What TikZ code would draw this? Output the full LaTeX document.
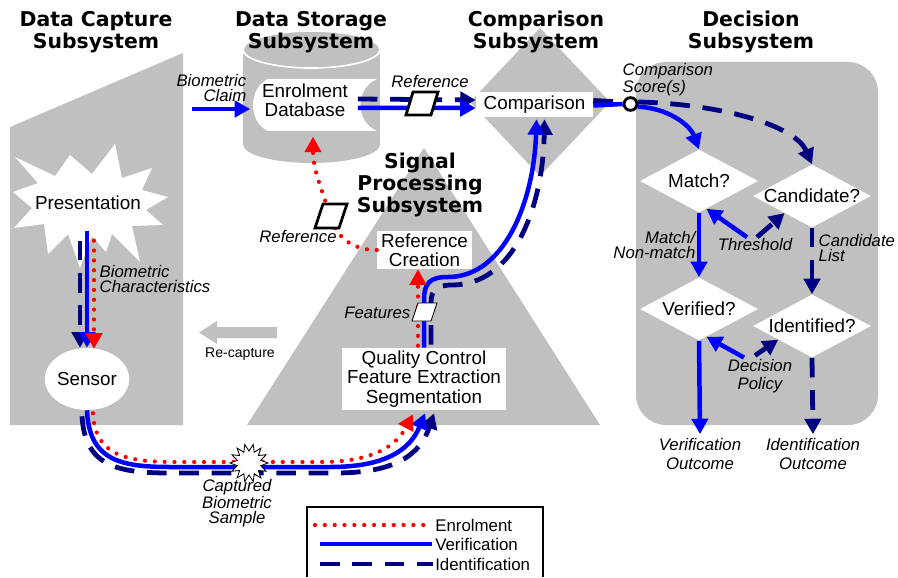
\documentclass[tikz,border=0pt]{standalone}
\usepackage{fontspec}
\setmainfont{Liberation Sans}
\newfontfamily\titlefont{DejaVu Sans}
\usetikzlibrary{positioning,calc,arrows.meta,shapes.geometric}
\definecolor{bggray}{RGB}{192,192,192}
\definecolor{navy}{RGB}{0,0,128}
\tikzstyle{box} = [fill=white, inner sep=0pt, align=center, font=\fontsize{13.4}{13.6}\selectfont]
\tikzstyle{ask} = [diamond, fill=white, inner sep=0pt, minimum width=2.95cm, minimum height=1.575cm, font=\fontsize{13.4}{13.6}\selectfont]
\tikzstyle{subsys} = [align=center, inner sep=0pt, font=\titlefont\bfseries\fontsize{14.5}{15.6}\selectfont]
\tikzstyle{lbl} = [inner sep=1pt, font=\itshape\fontsize{11.9}{11}\selectfont]
\tikzstyle{enrol} = [red, line width=3pt, line cap=round, dash pattern=on 0pt off 7pt]
\tikzstyle{verif} = [blue, line width=3.2pt]
\tikzstyle{ident} = [navy, line width=3.4pt, dash pattern=on 14pt off 9pt]
\tikzstyle{flow} = [-{Triangle[length=11pt,width=11.5pt]}]
\tikzstyle{refdoc} = [draw=black, fill=white, line width=2pt]

\begin{document}
\begin{tikzpicture}[x=0.025cm, y=-0.025cm]
	\useasboundingbox (0,0) rectangle (898,577);

	\fill[bggray] (10,127) -- (183,53) -- (183,425) -- (10,425) -- cycle;
	\fill[bggray] (311.5,144.5) ellipse [x radius=68.5, y radius=18.5];
	\fill[bggray] (243,49.5) rectangle (380,144.5);
	\fill[bggray] (311.5,49.5) ellipse [x radius=68.5, y radius=18.5];
	\draw[white, line width=1.2pt] (311.5,49.5) ellipse [x radius=68.5, y radius=18.5];
	\fill[white] (268,79) -- (377,79) .. controls (355,88) and (355,122) .. (377,131) -- (268,131) .. controls (248,122) and (248,88) .. (268,79) -- cycle;
	\fill[bggray] (540,28) -- (610,102) -- (540,176) -- (470,102) -- cycle;
	\fill[bggray] (424,148) -- (600,425) -- (247,425) -- cycle;
	\fill[bggray, rounded corners=0.75cm] (636,62) rectangle (878,425);
	\fill[bggray] (277,327) -- (217,327) -- (217,321) -- (199,332.5) -- (217,344) -- (217,338) -- (277,338) -- cycle;
	\fill[white] (13,192) -- (38,183) -- (15,157) -- (55,176) -- (70,155) -- (92,174) -- (115,144) -- (122,178) -- (152,168) -- (142,190) -- (168,197) -- (146,210) -- (163,225) -- (132,226) -- (140,262) -- (112,234) -- (106,252) -- (92,236) -- (80,268) -- (68,234) -- (48,254) -- (44,224) -- (14,228) -- (32,208) -- cycle;

	\node[subsys] (capt) at (96,32) {Data Capture\\Subsystem};
	\node[subsys] (stor) at (311,32) {Data Storage\\Subsystem};
	\node[subsys] (cmpt) at (536,32) {Comparison\\Subsystem};
	\node[subsys] (dect) at (751,32) {Decision\\Subsystem};
	\node[subsys] (sigt) at (420,185) {Signal\\Processing\\Subsystem};

	\node[box] (pres) at (88,203) {Presentation};
	\node[box, ellipse, minimum width=1.675cm, minimum height=1.55cm] (sensor) at (87,379) {Sensor};
	\node[box, fill=none, minimum width=2.625cm] (db) at (305,100) {Enrolment\\Database};
	\node[box, minimum width=2.925cm, minimum height=0.625cm] (cmp) at (534.5,104.5) {Comparison};
	\node[box, minimum width=2.375cm, minimum height=0.95cm] (refc) at (424.5,250) {Reference\\Creation};
	\node[box, minimum width=4.1cm, minimum height=1.55cm] (qc) at (424,379) {Quality Control\\Feature Extraction\\Segmentation};
	\node[ask] (match) at (699,181) {\makebox[0pt]{Match?}};
	\node[ask] (cand) at (812,196) {\makebox[0pt]{Candidate?}};
	\node[ask] (ver) at (699,309) {\makebox[0pt]{Verified?}};
	\node[ask] (iden) at (812,326) {\makebox[0pt]{Identified?}};
	\node[circle, draw, fill=white, line width=2pt, minimum size=0.32cm, inner sep=0pt] (score) at (630.5,104) {};

	\node[lbl, align=right, anchor=east] (claim) at (248,88) {Biometric\\Claim};
	\coordinate (claimin) at (192,109);
	\node[lbl] (ref1) at (430,82) {Reference};
	\node[lbl] (ref2) at (298,237) {Reference};
	\node[lbl, align=left, anchor=west] (chars) at (98,279) {Biometric\\Characteristics};
	\node[lbl, anchor=east] (feattxt) at (412,313) {Features};
	\node[lbl, align=center] (captxt) at (237,503) {Captured\\Biometric\\Sample};
	\node[font=\fontsize{10}{10}\selectfont, inner sep=0pt] (recap) at (240,354) {Re-capture};
	\node[lbl, align=left, anchor=west] (scoretxt) at (621,80) {Comparison\\Score(s)};
	\node[lbl, align=right, anchor=east] (mnm) at (697,245) {Match/\\Non-match};
	\node[lbl] (thr) at (755,245) {Threshold};
	\node[lbl, align=left, anchor=west] (clist) at (817,248) {Candidate\\List};
	\node[lbl, align=center, font=\itshape\fontsize{11.9}{12.8}\selectfont] (pol) at (760,376) {Decision\\Policy};
	\node[lbl, align=center, font=\itshape\fontsize{11.9}{14.2}\selectfont] (vout) at (700,454) {Verification\\Outcome};
	\node[lbl, align=center, font=\itshape\fontsize{11.9}{14.2}\selectfont] (iout) at (813,454) {Identification\\Outcome};

	\draw[verif, flow] (claimin) -- ($(db.west)+(-2,9)$);
	\draw[ident, flow] ($(db.east)+(0,-1)$) -- ($(cmp.west)+(0,-4.5)$);
	\draw[verif, flow] ($(db.east)+(0,8)$) -- ($(cmp.west)+(0,3.5)$);
	\draw[ident] ($(cmp.east)+(0,-4)$) -- (score.165);
	\draw[verif] ($(cmp.east)+(0,1)$) -- (score.west);
	\draw[ident, flow] (score.15) .. controls (720,104) and (795,125) .. (cand.north);
	\draw[verif, flow] (score.-20) .. controls (668,108) and (690,125) .. (match.north);
	\draw[verif, flow] (match.south) -- (ver.north);
	\draw[ident, flow] (cand.south) -- (iden.north);
	\draw[verif, flow] ($(thr.north)+(-8,0)$) -- (match.-75);
	\draw[ident, flow] ($(thr.north)+(2,0)$) -- (cand.-148);
	\draw[verif, flow] ($(pol.north)+(-16,0)$) -- (ver.-75);
	\draw[ident, flow] ($(pol.north)+(-5,-2)$) -- (iden.-158);
	\draw[verif, flow] (ver.south) -- ($(vout.north)+(0,-2)$);
	\draw[ident, flow] (iden.south) -- ($(iout.north)+(0,-2)$);

	\draw[ident, flow] ($(sensor.north)+(-7,-107)$) -- ($(sensor.north)+(-7,0)$);
	\draw[verif, flow] ($(sensor.north)+(0,-117)$) -- (sensor.north);
	\draw[enrol, flow] ($(sensor.north)+(7,-107)$) -- ($(sensor.north)+(7,1)$);

	\draw[ident, flow] ($(sensor.south)+(-5,6)$) .. controls (85,465) and (115,473) .. (170,473) -- (335,473) .. controls (395,473) and (420,455) .. ($(qc.south)+(10,3)$);
	\draw[verif, flow] (sensor.south) .. controls (89,460) and (120,467) .. (170,467) -- (330,467) .. controls (385,467) and (410,450) .. ($(qc.south)+(1,3)$);
	\draw[enrol, flow] ($(sensor.south)+(6,3)$) .. controls (95,455) and (125,462) .. (175,462) -- (320,462) .. controls (370,462) and (395,448) .. ($(qc.south)+(-11,4)$);

	\draw[ident, flow] ($(qc.north)+(7,-3)$) -- (431,303) .. controls (431,290) and (437,285) .. (452,285) .. controls (515,285) and (543,205) .. ($(cmp.south)+(10,2)$);
	\draw[verif, flow] (qc.north) -- (424,300) .. controls (424,283) and (430,277) .. (448,277) .. controls (505,277) and (534,200) .. ($(cmp.south)+(2,2)$);
	\draw[enrol, flow] ($(qc.north)+(-6,-2)$) -- ($(refc.south)+(-6.5,0)$);
	\draw[enrol, flow] (refc.west) .. controls (350,250) and (335,235) .. (330,215) .. controls (322,190) and (313,170) .. ($(db.south)+(8,20)$);

	\draw[refdoc] (406,115) -- (413,92) -- (438,92) -- (431,115) -- cycle;
	\draw[refdoc] (315,228) -- (323,204) -- (347,204) -- (339,228) -- cycle;
	\draw[black, fill=white, line width=0.6pt] (412,321) -- (418,303) -- (437,303) -- (431,321) -- cycle;
	\begin{scope}[shift={(249,463)}]
		\filldraw[fill=white, draw=black, line width=0.6pt] (0:19) \foreach \i in {1,...,27} { -- ({\i*360/28}:{ifthenelse(isodd(\i),12,19)}) } -- cycle;
	\end{scope}

	\draw[line width=0.8pt] (307,577) -- (307,507) -- (543,507) -- (543,577);
	\node[anchor=west, inner sep=0pt, font=\fontsize{12}{12}\selectfont] (le) at (435,525) {Enrolment};
	\node[anchor=west, inner sep=0pt, font=\fontsize{12}{12}\selectfont] (lv) at (435,544) {Verification};
	\node[anchor=west, inner sep=0pt, font=\fontsize{12}{12}\selectfont] (li) at (435,564) {Identification};
	\draw[enrol] ($(le.west)+(-120,0)$) -- ($(le.west)+(-9,0)$);
	\draw[verif] ($(lv.west)+(-115,0)$) -- ($(lv.west)+(-3,0)$);
	\draw[ident] ($(li.west)+(-115,0)$) -- ($(li.west)+(-2,0)$);
\end{tikzpicture}
\end{document}
